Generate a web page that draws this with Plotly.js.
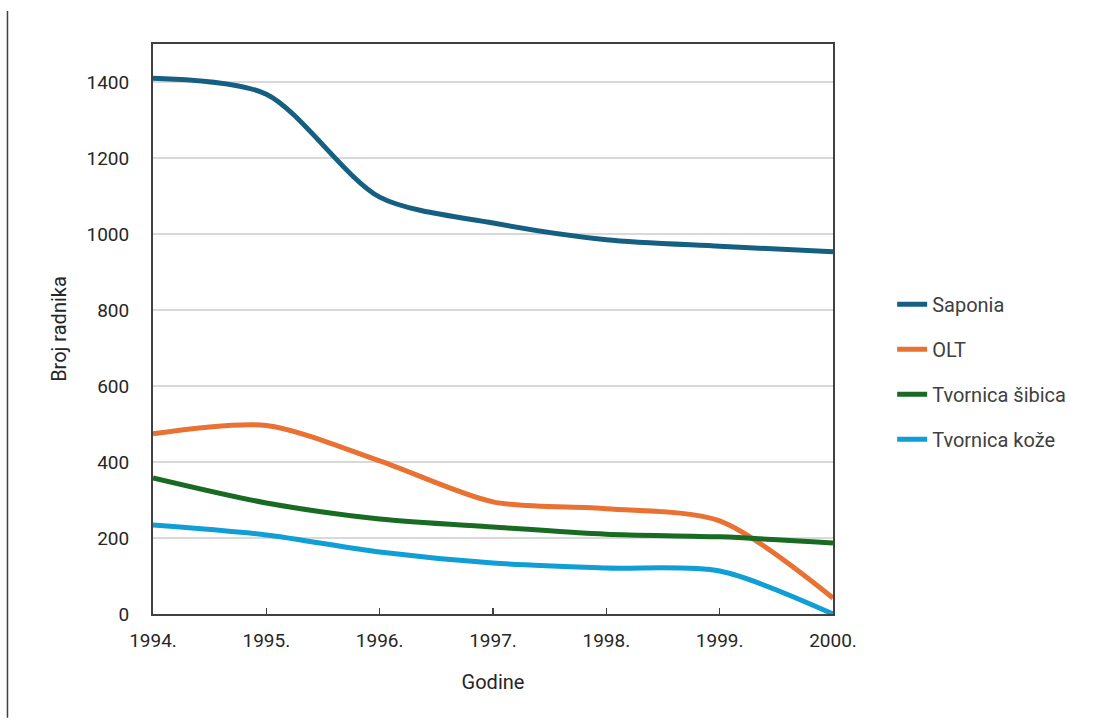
<!DOCTYPE html>
<html>
<head>
<meta charset="utf-8">
<script src="https://cdn.plot.ly/plotly-3.0.1.min.js"></script>
<style>html,body{margin:0;padding:0;background:#fff}#chart{width:1118px;height:727px}</style>
</head>
<body>
<div id="chart"></div>
<script>
const years = [1994, 1995, 1996, 1997, 1998, 1999, 2000];
const yearLabels = ["1994.", "1995.", "1996.", "1997.", "1998.", "1999.", "2000."];
const seriesNames = ["Saponia", "OLT", "Tvornica šibica", "Tvornica kože"];
const saponia = [1410, 1368, 1097, 1029, 985, 968, 953];
const olt = [474, 496, 403, 295, 277, 245, 42];
const sibica = [358, 292, 250, 229, 210, 203, 187];
const koza = [234, 208, 163, 134, 121, 113, 0];
const colors = ["#156082", "#E97132", "#196B24", "#0F9ED5"];
const yTicks = [0, 200, 400, 600, 800, 1000, 1200, 1400];

const values = [saponia, olt, sibica, koza];
const traces = values.map((v, i) => ({
  x: years, y: v, name: seriesNames[i], type: "scatter", mode: "lines",
  line: {color: colors[i], width: 5, shape: "spline", smoothing: 0.8},
  legendgroup: "g" + i, cliponaxis: false
}));

const layout = {
  width: 1118, height: 727,
  margin: {l: 153, r: 285, t: 44, b: 113},
  paper_bgcolor: "#fff", plot_bgcolor: "#fff",
  font: {family: "Roboto, 'Open Sans', sans-serif", size: 19, color: "#262626"},
  showlegend: true,
  legend: {x: 1.087, y: 0.425, xanchor: "left", yanchor: "middle", traceorder: "grouped", tracegroupgap: 16,
           font: {size: 20, color: "#404040"}, bgcolor: "rgba(0,0,0,0)"},
  xaxis: {
    range: [1994, 2000], tickvals: years, ticktext: yearLabels,
    showgrid: false, zeroline: false, showline: true, linecolor: "#404040", linewidth: 2, mirror: true,
    ticks: "inside", ticklen: 6, tickcolor: "#404040", tickwidth: 1.5,
    ticklabelstandoff: 8,
    tickfont: {size: 19, color: "#262626"},
    title: {text: "Godine", font: {size: 20, color: "#262626"}, standoff: 24}
  },
  yaxis: {
    range: [0, 1500], tickvals: yTicks,
    showgrid: true, gridcolor: "#d9d9d9", gridwidth: 2, zeroline: false,
    showline: true, linecolor: "#404040", linewidth: 2, mirror: true, ticks: "",
    ticklabelstandoff: 18,
    tickfont: {size: 19, color: "#262626"},
    title: {text: "Broj radnika", font: {size: 20, color: "#262626"}, standoff: 14}
  },
  shapes: [{type: "line", xref: "paper", yref: "paper", x0: -0.214, x1: -0.214, y0: -0.182, y1: 1.058,
            line: {color: "#404040", width: 1.5}}]
};
Plotly.newPlot("chart", traces, layout, {displayModeBar: false, staticPlot: true});
</script>
</body>
</html>
